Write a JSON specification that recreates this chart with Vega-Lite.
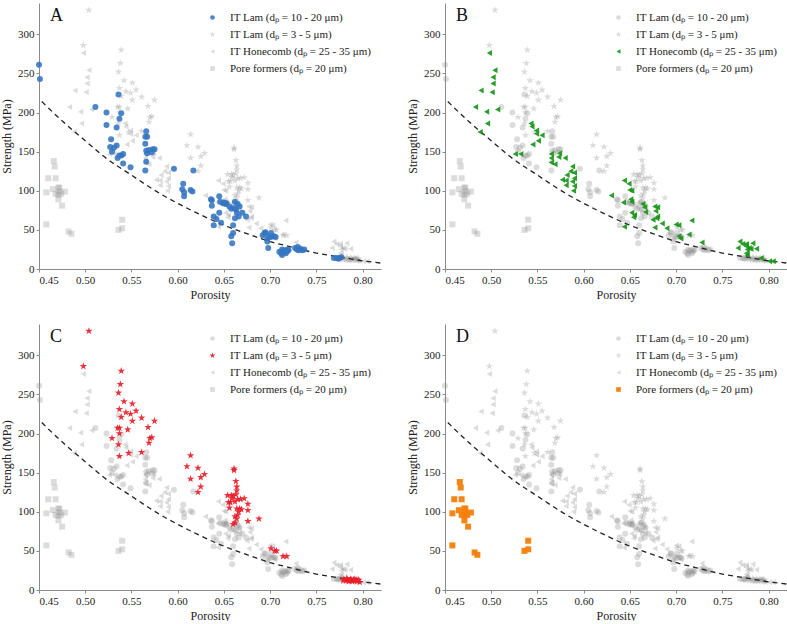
{
"$schema": "https://vega.github.io/schema/vega-lite/v6.json",
"padding": {"left": 0, "top": 3, "right": 0, "bottom": 0},
"config": {
  "font": "Liberation Serif",
  "view": {"stroke": null},
  "title": {"anchor": "start", "frame": "group", "orient": "top", "offset": -22, "dx": 11, "fontSize": 18, "fontWeight": "normal", "font": "Liberation Serif", "color": "#111"},
  "axis": {"grid": false, "domainColor": "#8a8a8a", "tickColor": "#8a8a8a", "tickSize": 3, "labelFontSize": 11, "titleFontSize": 12, "titleFontWeight": "normal", "labelColor": "#222", "titleColor": "#222", "labelFont": "Liberation Serif", "titleFont": "Liberation Serif"},
  "legend": {"orient": "top-right", "offset": 9, "labelFontSize": 11, "labelFont": "Liberation Serif", "labelColor": "#222", "symbolSize": 22, "rowPadding": 5, "labelOffset": 12}
},
"datasets": {
"fit": [
{"porosity":0.453,"strength":214},{"porosity":0.48,"strength":184},{"porosity":0.5,"strength":164},{"porosity":0.52,"strength":144},{"porosity":0.55,"strength":120},{"porosity":0.58,"strength":97},{"porosity":0.6,"strength":84},{"porosity":0.62,"strength":72},{"porosity":0.65,"strength":56},{"porosity":0.68,"strength":43},{"porosity":0.7,"strength":35},{"porosity":0.72,"strength":29},{"porosity":0.75,"strength":20.4},{"porosity":0.78,"strength":14.5},{"porosity":0.8,"strength":10.5},{"porosity":0.82,"strength":7.6}
],
"pts": [
{"porosity":0.450,"strength":261,"g":"lam1020"},{"porosity":0.451,"strength":243,"g":"lam1020"},{"porosity":0.511,"strength":207,"g":"lam1020"},{"porosity":0.523,"strength":200,"g":"lam1020"},{"porosity":0.523,"strength":184,"g":"lam1020"},{"porosity":0.536,"strength":223,"g":"lam1020"},{"porosity":0.539,"strength":199,"g":"lam1020"},{"porosity":0.537,"strength":192,"g":"lam1020"},{"porosity":0.534,"strength":181,"g":"lam1020"},{"porosity":0.528,"strength":166,"g":"lam1020"},{"porosity":0.527,"strength":156,"g":"lam1020"},{"porosity":0.531,"strength":155,"g":"lam1020"},{"porosity":0.534,"strength":158,"g":"lam1020"},{"porosity":0.529,"strength":150,"g":"lam1020"},{"porosity":0.535,"strength":142,"g":"lam1020"},{"porosity":0.537,"strength":145,"g":"lam1020"},{"porosity":0.539,"strength":145,"g":"lam1020"},{"porosity":0.541,"strength":147,"g":"lam1020"},{"porosity":0.541,"strength":135,"g":"lam1020"},{"porosity":0.549,"strength":130,"g":"lam1020"},{"porosity":0.565,"strength":160,"g":"lam1020"},{"porosity":0.565,"strength":169,"g":"lam1020"},{"porosity":0.566,"strength":176,"g":"lam1020"},{"porosity":0.567,"strength":169,"g":"lam1020"},{"porosity":0.566,"strength":151,"g":"lam1020"},{"porosity":0.567,"strength":148,"g":"lam1020"},{"porosity":0.566,"strength":137,"g":"lam1020"},{"porosity":0.565,"strength":126,"g":"lam1020"},{"porosity":0.569,"strength":152,"g":"lam1020"},{"porosity":0.573,"strength":153,"g":"lam1020"},{"porosity":0.575,"strength":153,"g":"lam1020"},{"porosity":0.572,"strength":149,"g":"lam1020"},{"porosity":0.596,"strength":128,"g":"lam1020"},{"porosity":0.606,"strength":109,"g":"lam1020"},{"porosity":0.605,"strength":102,"g":"lam1020"},{"porosity":0.607,"strength":93,"g":"lam1020"},{"porosity":0.607,"strength":98,"g":"lam1020"},{"porosity":0.614,"strength":101,"g":"lam1020"},{"porosity":0.616,"strength":99,"g":"lam1020"},{"porosity":0.617,"strength":126,"g":"lam1020"},{"porosity":0.636,"strength":89,"g":"lam1020"},{"porosity":0.637,"strength":88,"g":"lam1020"},{"porosity":0.637,"strength":81,"g":"lam1020"},{"porosity":0.645,"strength":93,"g":"lam1020"},{"porosity":0.646,"strength":86,"g":"lam1020"},{"porosity":0.649,"strength":84,"g":"lam1020"},{"porosity":0.652,"strength":83,"g":"lam1020"},{"porosity":0.650,"strength":85,"g":"lam1020"},{"porosity":0.653,"strength":84,"g":"lam1020"},{"porosity":0.639,"strength":67,"g":"lam1020"},{"porosity":0.639,"strength":56,"g":"lam1020"},{"porosity":0.642,"strength":64,"g":"lam1020"},{"porosity":0.645,"strength":72,"g":"lam1020"},{"porosity":0.647,"strength":59,"g":"lam1020"},{"porosity":0.656,"strength":80,"g":"lam1020"},{"porosity":0.658,"strength":77,"g":"lam1020"},{"porosity":0.661,"strength":78,"g":"lam1020"},{"porosity":0.662,"strength":86,"g":"lam1020"},{"porosity":0.663,"strength":76,"g":"lam1020"},{"porosity":0.660,"strength":56,"g":"lam1020"},{"porosity":0.658,"strength":42,"g":"lam1020"},{"porosity":0.660,"strength":46,"g":"lam1020"},{"porosity":0.659,"strength":33,"g":"lam1020"},{"porosity":0.662,"strength":65,"g":"lam1020"},{"porosity":0.664,"strength":72,"g":"lam1020"},{"porosity":0.665,"strength":83,"g":"lam1020"},{"porosity":0.666,"strength":67,"g":"lam1020"},{"porosity":0.670,"strength":72,"g":"lam1020"},{"porosity":0.674,"strength":67,"g":"lam1020"},{"porosity":0.667,"strength":80,"g":"lam1020"},{"porosity":0.692,"strength":43,"g":"lam1020"},{"porosity":0.694,"strength":46,"g":"lam1020"},{"porosity":0.695,"strength":47,"g":"lam1020"},{"porosity":0.697,"strength":39,"g":"lam1020"},{"porosity":0.697,"strength":35,"g":"lam1020"},{"porosity":0.698,"strength":27,"g":"lam1020"},{"porosity":0.701,"strength":46,"g":"lam1020"},{"porosity":0.701,"strength":41,"g":"lam1020"},{"porosity":0.704,"strength":42,"g":"lam1020"},{"porosity":0.706,"strength":41,"g":"lam1020"},{"porosity":0.699,"strength":42,"g":"lam1020"},{"porosity":0.710,"strength":22,"g":"lam1020"},{"porosity":0.712,"strength":20,"g":"lam1020"},{"porosity":0.713,"strength":18,"g":"lam1020"},{"porosity":0.714,"strength":23,"g":"lam1020"},{"porosity":0.716,"strength":24,"g":"lam1020"},{"porosity":0.718,"strength":22,"g":"lam1020"},{"porosity":0.719,"strength":25,"g":"lam1020"},{"porosity":0.720,"strength":24,"g":"lam1020"},{"porosity":0.713,"strength":25,"g":"lam1020"},{"porosity":0.717,"strength":20,"g":"lam1020"},{"porosity":0.727,"strength":27,"g":"lam1020"},{"porosity":0.729,"strength":25,"g":"lam1020"},{"porosity":0.731,"strength":24,"g":"lam1020"},{"porosity":0.733,"strength":26,"g":"lam1020"},{"porosity":0.735,"strength":24,"g":"lam1020"},{"porosity":0.737,"strength":25,"g":"lam1020"},{"porosity":0.730,"strength":28,"g":"lam1020"},{"porosity":0.769,"strength":14,"g":"lam1020"},{"porosity":0.772,"strength":14,"g":"lam1020"},{"porosity":0.775,"strength":14,"g":"lam1020"},{"porosity":0.777,"strength":15,"g":"lam1020"},{"porosity":0.774,"strength":13,"g":"lam1020"},

{"porosity":0.504,"strength":331,"g":"lam35"},{"porosity":0.498,"strength":286,"g":"lam35"},{"porosity":0.539,"strength":280,"g":"lam35"},{"porosity":0.538,"strength":263,"g":"lam35"},{"porosity":0.536,"strength":252,"g":"lam35"},{"porosity":0.542,"strength":241,"g":"lam35"},{"porosity":0.537,"strength":231,"g":"lam35"},{"porosity":0.551,"strength":238,"g":"lam35"},{"porosity":0.544,"strength":227,"g":"lam35"},{"porosity":0.549,"strength":225,"g":"lam35"},{"porosity":0.555,"strength":229,"g":"lam35"},{"porosity":0.561,"strength":220,"g":"lam35"},{"porosity":0.539,"strength":221,"g":"lam35"},{"porosity":0.551,"strength":216,"g":"lam35"},{"porosity":0.575,"strength":216,"g":"lam35"},{"porosity":0.535,"strength":207,"g":"lam35"},{"porosity":0.537,"strength":207,"g":"lam35"},{"porosity":0.529,"strength":194,"g":"lam35"},{"porosity":0.537,"strength":200,"g":"lam35"},{"porosity":0.546,"strength":205,"g":"lam35"},{"porosity":0.568,"strength":208,"g":"lam35"},{"porosity":0.572,"strength":195,"g":"lam35"},{"porosity":0.570,"strength":194,"g":"lam35"},{"porosity":0.569,"strength":188,"g":"lam35"},{"porosity":0.536,"strength":186,"g":"lam35"},{"porosity":0.537,"strength":171,"g":"lam35"},{"porosity":0.547,"strength":175,"g":"lam35"},{"porosity":0.561,"strength":176,"g":"lam35"},{"porosity":0.610,"strength":158,"g":"lam35"},{"porosity":0.614,"strength":172,"g":"lam35"},{"porosity":0.614,"strength":142,"g":"lam35"},{"porosity":0.622,"strength":156,"g":"lam35"},{"porosity":0.625,"strength":144,"g":"lam35"},{"porosity":0.629,"strength":148,"g":"lam35"},{"porosity":0.622,"strength":125,"g":"lam35"},{"porosity":0.625,"strength":132,"g":"lam35"},{"porosity":0.661,"strength":155,"g":"lam35"},{"porosity":0.661,"strength":153,"g":"lam35"},{"porosity":0.663,"strength":139,"g":"lam35"},{"porosity":0.664,"strength":132,"g":"lam35"},{"porosity":0.664,"strength":127,"g":"lam35"},{"porosity":0.663,"strength":122,"g":"lam35"},{"porosity":0.658,"strength":121,"g":"lam35"},{"porosity":0.654,"strength":121,"g":"lam35"},{"porosity":0.659,"strength":117,"g":"lam35"},{"porosity":0.655,"strength":112,"g":"lam35"},{"porosity":0.656,"strength":105,"g":"lam35"},{"porosity":0.662,"strength":113,"g":"lam35"},{"porosity":0.665,"strength":116,"g":"lam35"},{"porosity":0.668,"strength":116,"g":"lam35"},{"porosity":0.672,"strength":117,"g":"lam35"},{"porosity":0.676,"strength":110,"g":"lam35"},{"porosity":0.676,"strength":102,"g":"lam35"},{"porosity":0.676,"strength":88,"g":"lam35"},{"porosity":0.688,"strength":91,"g":"lam35"},{"porosity":0.664,"strength":104,"g":"lam35"},{"porosity":0.667,"strength":104,"g":"lam35"},{"porosity":0.666,"strength":100,"g":"lam35"},{"porosity":0.662,"strength":94,"g":"lam35"},{"porosity":0.664,"strength":91,"g":"lam35"},{"porosity":0.662,"strength":86,"g":"lam35"},{"porosity":0.665,"strength":96,"g":"lam35"},{"porosity":0.669,"strength":103,"g":"lam35"},{"porosity":0.660,"strength":120,"g":"lam35"},{"porosity":0.657,"strength":112,"g":"lam35"},{"porosity":0.660,"strength":84,"g":"lam35"},{"porosity":0.701,"strength":53,"g":"lam35"},{"porosity":0.705,"strength":50,"g":"lam35"},{"porosity":0.707,"strength":50,"g":"lam35"},{"porosity":0.714,"strength":43,"g":"lam35"},{"porosity":0.718,"strength":43,"g":"lam35"},{"porosity":0.780,"strength":14,"g":"lam35"},{"porosity":0.782,"strength":12,"g":"lam35"},{"porosity":0.784,"strength":13,"g":"lam35"},{"porosity":0.786,"strength":12,"g":"lam35"},{"porosity":0.788,"strength":13,"g":"lam35"},{"porosity":0.789,"strength":11,"g":"lam35"},{"porosity":0.790,"strength":13,"g":"lam35"},{"porosity":0.792,"strength":12,"g":"lam35"},{"porosity":0.794,"strength":11,"g":"lam35"},{"porosity":0.795,"strength":12,"g":"lam35"},{"porosity":0.797,"strength":10,"g":"lam35"},{"porosity":0.783,"strength":15,"g":"lam35"},{"porosity":0.787,"strength":14,"g":"lam35"},{"porosity":0.791,"strength":14,"g":"lam35"},{"porosity":0.793,"strength":13,"g":"lam35"},{"porosity":0.779,"strength":12,"g":"lam35"},{"porosity":0.796,"strength":13,"g":"lam35"},{"porosity":0.785,"strength":11,"g":"lam35"},

{"porosity":0.498,"strength":276,"g":"honey"},{"porosity":0.504,"strength":254,"g":"honey"},{"porosity":0.502,"strength":245,"g":"honey"},{"porosity":0.502,"strength":237,"g":"honey"},{"porosity":0.489,"strength":228,"g":"honey"},{"porosity":0.501,"strength":226,"g":"honey"},{"porosity":0.483,"strength":207,"g":"honey"},{"porosity":0.495,"strength":201,"g":"honey"},{"porosity":0.507,"strength":204,"g":"honey"},{"porosity":0.496,"strength":186,"g":"honey"},{"porosity":0.488,"strength":175,"g":"honey"},{"porosity":0.526,"strength":147,"g":"honey"},{"porosity":0.532,"strength":147,"g":"honey"},{"porosity":0.543,"strength":186,"g":"honey"},{"porosity":0.544,"strength":182,"g":"honey"},{"porosity":0.549,"strength":177,"g":"honey"},{"porosity":0.549,"strength":173,"g":"honey"},{"porosity":0.555,"strength":171,"g":"honey"},{"porosity":0.545,"strength":159,"g":"honey"},{"porosity":0.551,"strength":164,"g":"honey"},{"porosity":0.565,"strength":147,"g":"honey"},{"porosity":0.565,"strength":142,"g":"honey"},{"porosity":0.565,"strength":136,"g":"honey"},{"porosity":0.569,"strength":134,"g":"honey"},{"porosity":0.574,"strength":148,"g":"honey"},{"porosity":0.573,"strength":143,"g":"honey"},{"porosity":0.580,"strength":142,"g":"honey"},{"porosity":0.577,"strength":114,"g":"honey"},{"porosity":0.581,"strength":107,"g":"honey"},{"porosity":0.581,"strength":113,"g":"honey"},{"porosity":0.582,"strength":120,"g":"honey"},{"porosity":0.586,"strength":125,"g":"honey"},{"porosity":0.588,"strength":131,"g":"honey"},{"porosity":0.590,"strength":106,"g":"honey"},{"porosity":0.589,"strength":100,"g":"honey"},{"porosity":0.590,"strength":123,"g":"honey"},{"porosity":0.590,"strength":116,"g":"honey"},{"porosity":0.588,"strength":112,"g":"honey"},{"porosity":0.630,"strength":94,"g":"honey"},{"porosity":0.644,"strength":113,"g":"honey"},{"porosity":0.649,"strength":109,"g":"honey"},{"porosity":0.650,"strength":101,"g":"honey"},{"porosity":0.652,"strength":100,"g":"honey"},{"porosity":0.651,"strength":89,"g":"honey"},{"porosity":0.643,"strength":85,"g":"honey"},{"porosity":0.652,"strength":86,"g":"honey"},{"porosity":0.644,"strength":54,"g":"honey"},{"porosity":0.652,"strength":72,"g":"honey"},{"porosity":0.655,"strength":69,"g":"honey"},{"porosity":0.654,"strength":66,"g":"honey"},{"porosity":0.664,"strength":83,"g":"honey"},{"porosity":0.666,"strength":79,"g":"honey"},{"porosity":0.667,"strength":73,"g":"honey"},{"porosity":0.675,"strength":63,"g":"honey"},{"porosity":0.677,"strength":80,"g":"honey"},{"porosity":0.680,"strength":79,"g":"honey"},{"porosity":0.678,"strength":74,"g":"honey"},{"porosity":0.679,"strength":65,"g":"honey"},{"porosity":0.680,"strength":67,"g":"honey"},{"porosity":0.677,"strength":53,"g":"honey"},{"porosity":0.685,"strength":58,"g":"honey"},{"porosity":0.690,"strength":52,"g":"honey"},{"porosity":0.700,"strength":57,"g":"honey"},{"porosity":0.703,"strength":56,"g":"honey"},{"porosity":0.703,"strength":42,"g":"honey"},{"porosity":0.705,"strength":39,"g":"honey"},{"porosity":0.714,"strength":44,"g":"honey"},{"porosity":0.717,"strength":62,"g":"honey"},{"porosity":0.728,"strength":34,"g":"honey"},{"porosity":0.769,"strength":35,"g":"honey"},{"porosity":0.767,"strength":27,"g":"honey"},{"porosity":0.772,"strength":32,"g":"honey"},{"porosity":0.776,"strength":29,"g":"honey"},{"porosity":0.777,"strength":25,"g":"honey"},{"porosity":0.779,"strength":27,"g":"honey"},{"porosity":0.781,"strength":26,"g":"honey"},{"porosity":0.776,"strength":20,"g":"honey"},{"porosity":0.777,"strength":18,"g":"honey"},{"porosity":0.776,"strength":32,"g":"honey"},{"porosity":0.783,"strength":33,"g":"honey"},{"porosity":0.787,"strength":26,"g":"honey"},{"porosity":0.792,"strength":14,"g":"honey"},{"porosity":0.801,"strength":10,"g":"honey"},{"porosity":0.805,"strength":10,"g":"honey"},

{"porosity":0.458,"strength":98,"g":"pore"},{"porosity":0.458,"strength":57,"g":"pore"},{"porosity":0.460,"strength":116,"g":"pore"},{"porosity":0.466,"strength":138,"g":"pore"},{"porosity":0.467,"strength":131,"g":"pore"},{"porosity":0.465,"strength":102,"g":"pore"},{"porosity":0.468,"strength":116,"g":"pore"},{"porosity":0.468,"strength":96,"g":"pore"},{"porosity":0.471,"strength":104,"g":"pore"},{"porosity":0.472,"strength":104,"g":"pore"},{"porosity":0.472,"strength":99,"g":"pore"},{"porosity":0.471,"strength":95,"g":"pore"},{"porosity":0.471,"strength":89,"g":"pore"},{"porosity":0.474,"strength":96,"g":"pore"},{"porosity":0.475,"strength":81,"g":"pore"},{"porosity":0.478,"strength":99,"g":"pore"},{"porosity":0.482,"strength":48,"g":"pore"},{"porosity":0.485,"strength":45,"g":"pore"},{"porosity":0.536,"strength":50,"g":"pore"},{"porosity":0.540,"strength":52,"g":"pore"},{"porosity":0.540,"strength":63,"g":"pore"}
]
},
"columns": 2,
"spacing": {"row": 24, "column": 22},
"resolve": {"scale": {"color": "independent", "shape": "independent"}, "legend": {"color": "independent", "shape": "independent"}},
"concat": [
{"width": 342, "height": 266, "title": "A",
 "encoding": {
  "x": {"field": "porosity", "type": "quantitative", "scale": {"domain": [0.45, 0.82], "nice": false, "zero": false}, "axis": {"values": [0.45,0.5,0.55,0.6,0.65,0.7,0.75,0.8], "format": ".2f", "title": "Porosity"}},
  "y": {"field": "strength", "type": "quantitative", "scale": {"domain": [0, 340], "nice": false}, "axis": {"values": [0,50,100,150,200,250,300], "title": "Strength (MPa)"}}
 },
 "layer": [
  {"data": {"name": "pts"}, "transform": [{"filter": "datum.g != 'lam1020'"}], "mark": {"type": "point", "filled": true, "strokeWidth": 0, "size": 36, "opacity": 1},
   "encoding": {
    "color": {"field": "g", "type": "nominal", "scale": {"domain": ["lam1020","lam35","honey","pore"], "range": ["rgba(52,117,192,0.88)","rgba(140,140,140,0.3)","rgba(140,140,140,0.3)","rgba(140,140,140,0.3)"]}, "legend": {"title": null, "labelExpr": "datum.label == 'lam1020' ? 'IT Lam (dₚ = 10 - 20 μm)' : datum.label == 'lam35' ? 'IT Lam (dₚ = 3 - 5 μm)' : datum.label == 'honey' ? 'IT Honecomb (dₚ = 25 - 35 μm)' : 'Pore formers (dₚ = 20 μm)'"}},
    "shape": {"field": "g", "type": "nominal", "scale": {"domain": ["lam1020","lam35","honey","pore"], "range": ["circle","M0,-1.3L0.3,-0.42L1.24,-0.4L0.49,0.16L0.76,1.05L0,0.52L-0.76,1.05L-0.49,0.16L-1.24,-0.4L-0.3,-0.42Z","triangle-left","square"]}}
   }},
  {"data": {"name": "fit"}, "mark": {"type": "line", "color": "#222", "strokeWidth": 1.3, "strokeDash": [5, 4], "interpolate": "monotone"}, "encoding": {}},
  {"data": {"name": "pts"}, "transform": [{"filter": "datum.g == 'lam1020'"}], "mark": {"type": "point", "filled": true, "strokeWidth": 0, "size": 36, "opacity": 1},
   "encoding": {
    "color": {"field": "g", "type": "nominal", "scale": {"domain": ["lam1020","lam35","honey","pore"], "range": ["rgba(52,117,192,0.88)","rgba(140,140,140,0.3)","rgba(140,140,140,0.3)","rgba(140,140,140,0.3)"]}},
    "shape": {"field": "g", "type": "nominal", "scale": {"domain": ["lam1020","lam35","honey","pore"], "range": ["circle","M0,-1.3L0.3,-0.42L1.24,-0.4L0.49,0.16L0.76,1.05L0,0.52L-0.76,1.05L-0.49,0.16L-1.24,-0.4L-0.3,-0.42Z","triangle-left","square"]}}
   }}
 ]},
{"width": 342, "height": 266, "title": "B",
 "encoding": {
  "x": {"field": "porosity", "type": "quantitative", "scale": {"domain": [0.45, 0.82], "nice": false, "zero": false}, "axis": {"values": [0.45,0.5,0.55,0.6,0.65,0.7,0.75,0.8], "format": ".2f", "title": "Porosity"}},
  "y": {"field": "strength", "type": "quantitative", "scale": {"domain": [0, 340], "nice": false}, "axis": {"values": [0,50,100,150,200,250,300], "title": "Strength (MPa)"}}
 },
 "layer": [
  {"data": {"name": "pts"}, "transform": [{"filter": "datum.g != 'honey'"}], "mark": {"type": "point", "filled": true, "strokeWidth": 0, "size": 36, "opacity": 1},
   "encoding": {
    "color": {"field": "g", "type": "nominal", "scale": {"domain": ["lam1020","lam35","honey","pore"], "range": ["rgba(140,140,140,0.3)","rgba(140,140,140,0.3)","rgba(24,150,24,0.92)","rgba(140,140,140,0.3)"]}, "legend": {"title": null, "labelExpr": "datum.label == 'lam1020' ? 'IT Lam (dₚ = 10 - 20 μm)' : datum.label == 'lam35' ? 'IT Lam (dₚ = 3 - 5 μm)' : datum.label == 'honey' ? 'IT Honecomb (dₚ = 25 - 35 μm)' : 'Pore formers (dₚ = 20 μm)'"}},
    "shape": {"field": "g", "type": "nominal", "scale": {"domain": ["lam1020","lam35","honey","pore"], "range": ["circle","M0,-1.3L0.3,-0.42L1.24,-0.4L0.49,0.16L0.76,1.05L0,0.52L-0.76,1.05L-0.49,0.16L-1.24,-0.4L-0.3,-0.42Z","triangle-left","square"]}}
   }},
  {"data": {"name": "fit"}, "mark": {"type": "line", "color": "#222", "strokeWidth": 1.3, "strokeDash": [5, 4], "interpolate": "monotone"}, "encoding": {}},
  {"data": {"name": "pts"}, "transform": [{"filter": "datum.g == 'honey'"}], "mark": {"type": "point", "filled": true, "strokeWidth": 0, "size": 36, "opacity": 1},
   "encoding": {
    "color": {"field": "g", "type": "nominal", "scale": {"domain": ["lam1020","lam35","honey","pore"], "range": ["rgba(140,140,140,0.3)","rgba(140,140,140,0.3)","rgba(24,150,24,0.92)","rgba(140,140,140,0.3)"]}},
    "shape": {"field": "g", "type": "nominal", "scale": {"domain": ["lam1020","lam35","honey","pore"], "range": ["circle","M0,-1.3L0.3,-0.42L1.24,-0.4L0.49,0.16L0.76,1.05L0,0.52L-0.76,1.05L-0.49,0.16L-1.24,-0.4L-0.3,-0.42Z","triangle-left","square"]}}
   }}
 ]},
{"width": 342, "height": 266, "title": "C",
 "encoding": {
  "x": {"field": "porosity", "type": "quantitative", "scale": {"domain": [0.45, 0.82], "nice": false, "zero": false}, "axis": {"values": [0.45,0.5,0.55,0.6,0.65,0.7,0.75,0.8], "format": ".2f", "title": "Porosity"}},
  "y": {"field": "strength", "type": "quantitative", "scale": {"domain": [0, 340], "nice": false}, "axis": {"values": [0,50,100,150,200,250,300], "title": "Strength (MPa)"}}
 },
 "layer": [
  {"data": {"name": "pts"}, "transform": [{"filter": "datum.g != 'lam35'"}], "mark": {"type": "point", "filled": true, "strokeWidth": 0, "size": 36, "opacity": 1},
   "encoding": {
    "color": {"field": "g", "type": "nominal", "scale": {"domain": ["lam1020","lam35","honey","pore"], "range": ["rgba(140,140,140,0.3)","rgba(232,30,40,0.9)","rgba(140,140,140,0.3)","rgba(140,140,140,0.3)"]}, "legend": {"title": null, "labelExpr": "datum.label == 'lam1020' ? 'IT Lam (dₚ = 10 - 20 μm)' : datum.label == 'lam35' ? 'IT Lam (dₚ = 3 - 5 μm)' : datum.label == 'honey' ? 'IT Honecomb (dₚ = 25 - 35 μm)' : 'Pore formers (dₚ = 20 μm)'"}},
    "shape": {"field": "g", "type": "nominal", "scale": {"domain": ["lam1020","lam35","honey","pore"], "range": ["circle","M0,-1.3L0.3,-0.42L1.24,-0.4L0.49,0.16L0.76,1.05L0,0.52L-0.76,1.05L-0.49,0.16L-1.24,-0.4L-0.3,-0.42Z","triangle-left","square"]}}
   }},
  {"data": {"name": "fit"}, "mark": {"type": "line", "color": "#222", "strokeWidth": 1.3, "strokeDash": [5, 4], "interpolate": "monotone"}, "encoding": {}},
  {"data": {"name": "pts"}, "transform": [{"filter": "datum.g == 'lam35'"}], "mark": {"type": "point", "filled": true, "strokeWidth": 0, "size": 36, "opacity": 1},
   "encoding": {
    "color": {"field": "g", "type": "nominal", "scale": {"domain": ["lam1020","lam35","honey","pore"], "range": ["rgba(140,140,140,0.3)","rgba(232,30,40,0.9)","rgba(140,140,140,0.3)","rgba(140,140,140,0.3)"]}},
    "shape": {"field": "g", "type": "nominal", "scale": {"domain": ["lam1020","lam35","honey","pore"], "range": ["circle","M0,-1.3L0.3,-0.42L1.24,-0.4L0.49,0.16L0.76,1.05L0,0.52L-0.76,1.05L-0.49,0.16L-1.24,-0.4L-0.3,-0.42Z","triangle-left","square"]}}
   }}
 ]},
{"width": 342, "height": 266, "title": "D",
 "encoding": {
  "x": {"field": "porosity", "type": "quantitative", "scale": {"domain": [0.45, 0.82], "nice": false, "zero": false}, "axis": {"values": [0.45,0.5,0.55,0.6,0.65,0.7,0.75,0.8], "format": ".2f", "title": "Porosity"}},
  "y": {"field": "strength", "type": "quantitative", "scale": {"domain": [0, 340], "nice": false}, "axis": {"values": [0,50,100,150,200,250,300], "title": "Strength (MPa)"}}
 },
 "layer": [
  {"data": {"name": "pts"}, "transform": [{"filter": "datum.g != 'pore'"}], "mark": {"type": "point", "filled": true, "strokeWidth": 0, "size": 36, "opacity": 1},
   "encoding": {
    "color": {"field": "g", "type": "nominal", "scale": {"domain": ["lam1020","lam35","honey","pore"], "range": ["rgba(140,140,140,0.3)","rgba(140,140,140,0.3)","rgba(140,140,140,0.3)","rgba(244,128,10,0.95)"]}, "legend": {"title": null, "labelExpr": "datum.label == 'lam1020' ? 'IT Lam (dₚ = 10 - 20 μm)' : datum.label == 'lam35' ? 'IT Lam (dₚ = 3 - 5 μm)' : datum.label == 'honey' ? 'IT Honecomb (dₚ = 25 - 35 μm)' : 'Pore formers (dₚ = 20 μm)'"}},
    "shape": {"field": "g", "type": "nominal", "scale": {"domain": ["lam1020","lam35","honey","pore"], "range": ["circle","M0,-1.3L0.3,-0.42L1.24,-0.4L0.49,0.16L0.76,1.05L0,0.52L-0.76,1.05L-0.49,0.16L-1.24,-0.4L-0.3,-0.42Z","triangle-left","square"]}}
   }},
  {"data": {"name": "fit"}, "mark": {"type": "line", "color": "#222", "strokeWidth": 1.3, "strokeDash": [5, 4], "interpolate": "monotone"}, "encoding": {}},
  {"data": {"name": "pts"}, "transform": [{"filter": "datum.g == 'pore'"}], "mark": {"type": "point", "filled": true, "strokeWidth": 0, "size": 36, "opacity": 1},
   "encoding": {
    "color": {"field": "g", "type": "nominal", "scale": {"domain": ["lam1020","lam35","honey","pore"], "range": ["rgba(140,140,140,0.3)","rgba(140,140,140,0.3)","rgba(140,140,140,0.3)","rgba(244,128,10,0.95)"]}},
    "shape": {"field": "g", "type": "nominal", "scale": {"domain": ["lam1020","lam35","honey","pore"], "range": ["circle","M0,-1.3L0.3,-0.42L1.24,-0.4L0.49,0.16L0.76,1.05L0,0.52L-0.76,1.05L-0.49,0.16L-1.24,-0.4L-0.3,-0.42Z","triangle-left","square"]}}
   }}
 ]}
]
}
